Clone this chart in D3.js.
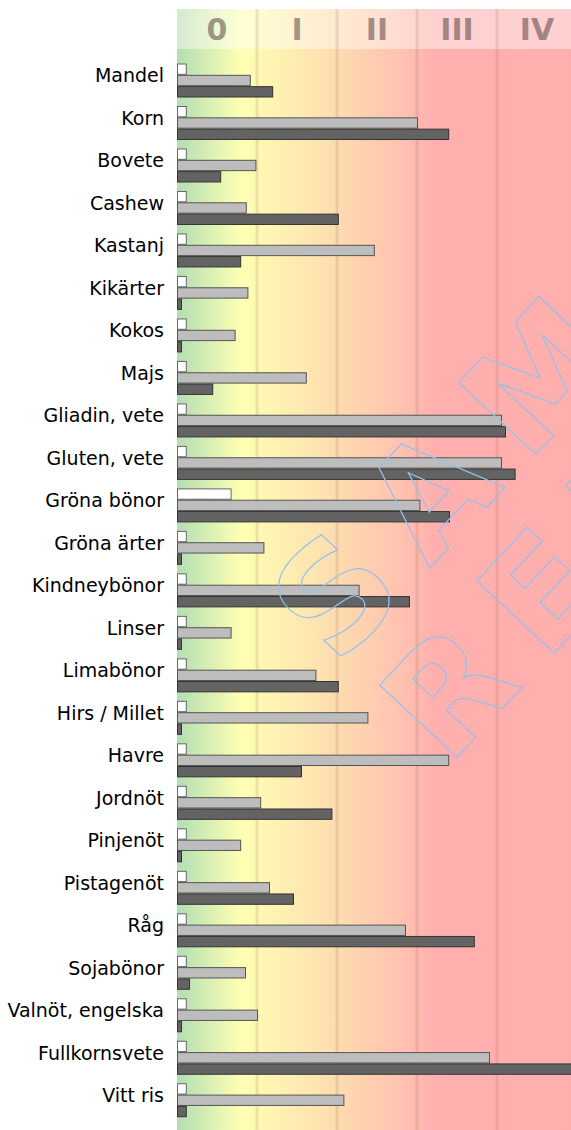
<!DOCTYPE html>
<html>
<head>
<meta charset="utf-8">
<script src="https://cdn.jsdelivr.net/npm/d3@7"></script>
<style>
  body { margin: 0; background: #fff; }
  svg { display: block; font-family: "DejaVu Sans", sans-serif; }
</style>
</head>
<body>
<div id="chart"></div>
<script>
// class units: 1 unit = one allergy class column
const categories = ["Mandel", "Korn", "Bovete", "Cashew", "Kastanj", "Kikärter", "Kokos", "Majs",
    "Gliadin, vete", "Gluten, vete", "Gröna bönor", "Gröna ärter", "Kindneybönor", "Linser",
    "Limabönor", "Hirs / Millet", "Havre", "Jordnöt", "Pinjenöt", "Pistagenöt", "Råg",
    "Sojabönor", "Valnöt, engelska", "Fullkornsvete", "Vitt ris"];

const whiteValues = [0.11, 0.11, 0.11, 0.11, 0.11, 0.11, 0.11, 0.11, 0.11, 0.11, 0.67, 0.11, 0.11,
    0.11, 0.11, 0.11, 0.11, 0.11, 0.11, 0.11, 0.11, 0.11, 0.11, 0.11, 0.11];

const grayValues = [0.91, 3.00, 0.98, 0.86, 2.46, 0.88, 0.72, 1.61, 4.05, 4.05, 3.03, 1.08, 2.27,
    0.67, 1.73, 2.38, 3.39, 1.04, 0.79, 1.15, 2.85, 0.85, 1.00, 3.90, 2.08];

const darkValues = [1.19, 3.39, 0.54, 2.01, 0.79, 0.05, 0.05, 0.44, 4.10, 4.22, 3.40, 0.05, 2.90,
    0.05, 2.01, 0.05, 1.55, 1.93, 0.05, 1.45, 3.71, 0.15, 0.05, 5.20, 0.11];

const classLabels = ["0", "I", "II", "III", "IV"];

const width = 571, height = 1130;
const plotLeft = 177, classWidth = 80;
const headerTop = 9, headerBottom = 49;

const svg = d3.select("#chart").append("svg")
    .attr("width", width)
    .attr("height", height);

const x = d3.scaleLinear()
    .domain([0, classLabels.length])
    .range([plotLeft, plotLeft + classWidth * classLabels.length]);

const y = d3.scaleBand()
    .domain(categories)
    .range([59.25, 1121.5])
    .paddingInner(0.2)
    .paddingOuter(0.1);

const series = [
    { key: "white", values: whiteValues, fill: "#ffffff", stroke: "#666" },
    { key: "gray", values: grayValues, fill: "#bdbdbd", stroke: "#555" },
    { key: "dark", values: darkValues, fill: "#636363", stroke: "#333" }
];

const ySub = d3.scaleBand()
    .domain(series.map(s => s.key))
    .range([0, y.bandwidth()]);

// background gradient
const defs = svg.append("defs");
const grad = defs.append("linearGradient")
    .attr("id", "bg")
    .attr("gradientUnits", "userSpaceOnUse")
    .attr("x1", x(0)).attr("x2", x(5))
    .attr("y1", 0).attr("y2", 0);
[[0, "#b3deb3"], [0.16, "#ffffb3"], [0.40, "#fedcb0"], [0.57, "#ffc0b0"], [0.64, "#ffb0ae"], [1, "#ffaeae"]]
    .forEach(([o, c]) => grad.append("stop").attr("offset", o).attr("stop-color", c));

svg.append("rect")
    .attr("x", x(0)).attr("y", headerTop)
    .attr("width", x(5) - x(0)).attr("height", height - headerTop)
    .attr("fill", "url(#bg)");

// lighter header band
svg.append("rect")
    .attr("x", x(0)).attr("y", headerTop)
    .attr("width", x(5) - x(0)).attr("height", headerBottom - headerTop)
    .attr("fill", "#fff")
    .attr("opacity", 0.42);

// class grid lines
svg.selectAll(".grid")
    .data(d3.range(1, classLabels.length))
    .enter().append("line")
    .attr("class", "grid")
    .attr("x1", d => x(d)).attr("x2", d => x(d))
    .attr("y1", headerTop).attr("y2", height)
    .attr("stroke", "rgba(140,100,60,0.16)")
    .attr("stroke-width", 3);

// class labels
svg.selectAll(".cls")
    .data(classLabels)
    .enter().append("text")
    .attr("class", "cls")
    .attr("x", (d, i) => x(i + 0.5))
    .attr("y", 40)
    .attr("text-anchor", "middle")
    .style("font-size", "30px")
    .style("font-weight", "bold")
    .style("fill", "#4a3a3a")
    .style("opacity", 0.5)
    .text(d => d);

// bars
const groups = svg.selectAll(".cat")
    .data(categories)
    .enter().append("g")
    .attr("class", "cat")
    .attr("transform", d => `translate(0,${y(d)})`);

series.forEach(s => {
    groups.append("rect")
        .attr("x", x(0) + 0.5)
        .attr("y", ySub(s.key) + 0.5)
        .attr("width", (d, i) => Math.max(0, x(s.values[i]) - x(0)))
        .attr("height", ySub.bandwidth() - 1)
        .attr("fill", s.fill)
        .attr("stroke", s.stroke)
        .attr("stroke-width", 1);
});

// category labels
groups.append("text")
    .attr("x", 164)
    .attr("y", y.bandwidth() / 2 + 2)
    .attr("text-anchor", "end")
    .style("font-size", "19px")
    .style("fill", "#000")
    .text(d => d);

// watermark
const wm = svg.append("g")
    .style("font-size", "145px")
    .style("font-weight", "bold")
    .style("letter-spacing", "31px")
    .attr("fill", "none")
    .attr("stroke", "#94c2ea")
    .attr("stroke-width", 1.2);

wm.append("text")
    .attr("transform", "translate(337,668) rotate(-47)")
    .text("SAMPLE");

wm.append("text")
    .attr("transform", "translate(448,767) rotate(-47)")
    .text("REPORT");
</script>
</body>
</html>
